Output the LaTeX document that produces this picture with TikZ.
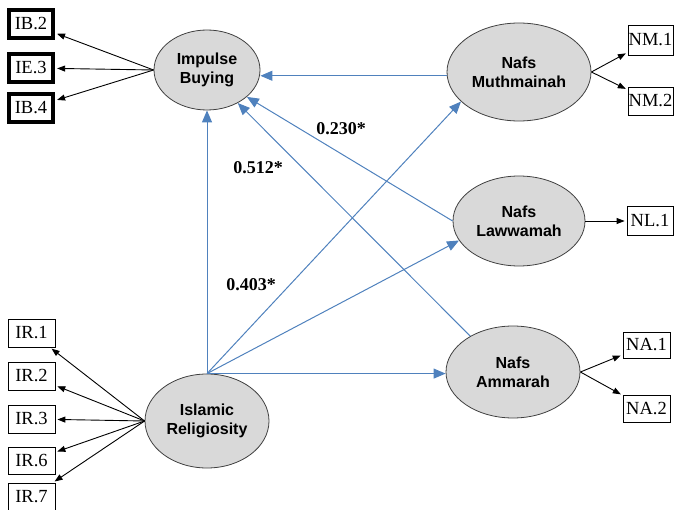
\documentclass[tikz,border=0pt]{standalone}
\usepackage{fontspec}
\setmainfont{Liberation Serif}
\setsansfont{Liberation Sans}
\usetikzlibrary{shapes.geometric,arrows.meta}
\definecolor{pathblue}{RGB}{79,129,189}
\definecolor{latfill}{RGB}{217,217,217}
\definecolor{latborder}{RGB}{64,64,64}
\begin{document}
\begin{tikzpicture}[x=1pt,y=-1pt,
 latent/.style={ellipse, draw=latborder, line width=0.8pt, fill=latfill, inner sep=0pt, align=center, font=\sffamily\bfseries\fontsize{16}{19}\selectfont},
 ind/.style={draw, line width=0.8pt, fill=white, inner sep=0pt, minimum width=46pt, minimum height=28pt, font=\fontsize{18.5}{20}\selectfont},
 indthick/.style={ind, line width=3.8pt, minimum width=44.5pt, minimum height=27.5pt},
 load/.style={-{Triangle[length=8pt,width=6pt]}, black, line width=0.9pt, shorten >=2pt},
 struct/.style={-{Triangle[length=12pt,width=10pt]}, pathblue, line width=1pt},
 coef/.style={font=\bfseries\fontsize{18}{20}\selectfont}
]
\useasboundingbox (0,0) rectangle (674,510);

% latent variables
\node[latent, minimum width=106pt, minimum height=80pt] (ib) at (207,70) {Impulse\\Buying};
\node[latent, minimum width=144pt, minimum height=98pt] (nm) at (519,72) {Nafs\\Muthmainah};
\node[latent, minimum width=132pt, minimum height=90pt] (nl) at (519,221) {Nafs\\Lawwamah};
\node[latent, minimum width=134pt, minimum height=92pt] (na) at (513,372) {Nafs\\Ammarah};
\node[latent, minimum width=124pt, minimum height=94pt] (ir) at (207,421) {Islamic\\Religiosity};

% indicators
\node[indthick] (ib2) at (31,24) {IB.2};
\node[indthick] (ie3) at (31,68) {IE.3};
\node[indthick] (ib4) at (31,108) {IB.4};

\node[ind, minimum width=47pt] (ir1) at (31.5,333) {IR.1};
\node[ind, minimum width=47pt] (ir2) at (31.5,376) {IR.2};
\node[ind, minimum width=47pt] (ir3) at (31.5,419) {IR.3};
\node[ind, minimum width=47pt, minimum height=27pt] (ir6) at (31.5,460.5) {IR.6};
\node[ind, minimum width=47pt] (ir7) at (31.5,497) {IR.7};

\node[ind, minimum width=45pt, minimum height=30pt] (nm1) at (650.5,40) {NM.1};
\node[ind, minimum width=45pt] (nm2) at (650.5,101) {NM.2};
\node[ind, minimum height=29pt] (nl1) at (650,221) {NL.1};
\node[ind, minimum width=47pt, minimum height=26pt] (na1) at (646.5,345) {NA.1};
\node[ind, minimum width=47pt, minimum height=27pt] (na2) at (646.5,408.5) {NA.2};

% loadings
\foreach \b in {ib2,ie3,ib4} \draw[load] (ib.west) -- (\b);
\foreach \b in {ir1,ir2,ir3,ir6,ir7} \draw[load] (ir.west) -- (\b);
\foreach \b in {nm1,nm2} \draw[load] (nm.east) -- (\b);
\draw[load] (nl.east) -- (nl1);
\foreach \b in {na1,na2} \draw[load] (na.east) -- (\b);

% structural paths
\draw[struct] (ir.north) -- (ib.south);
\draw[struct] (ir.north) -- (nm.207);
\draw[struct] (ir.north) -- (nl.198);
\draw[struct] (ir.north) -- (ir.north -| na.west);
\draw[struct] (nm.183) -- (nm.183 -| ib.east);
\draw[struct] (nl.west) -- (ib.-34);
\draw[struct] (na.140) -- (ib.-47);

% coefficients
\node[coef] (c1) at (341,129) {0.230*};
\node[coef] (c2) at (258,168) {0.512*};
\node[coef] (c3) at (251,285) {0.403*};
\end{tikzpicture}
\end{document}
